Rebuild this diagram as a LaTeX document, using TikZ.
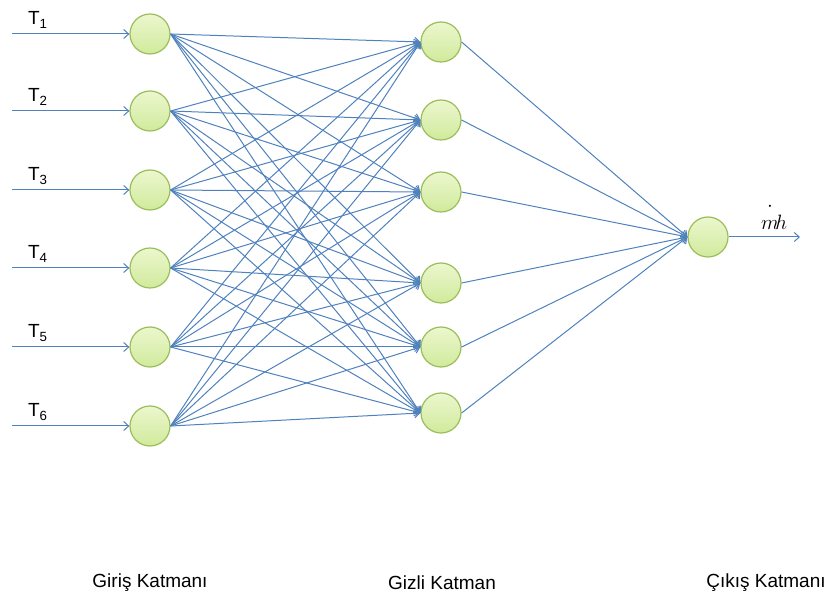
\documentclass[tikz,border=0pt]{standalone}
\usepackage{amsmath}
\usepackage{fontspec}
\setmainfont{Liberation Sans}
\usetikzlibrary{positioning,arrows.meta}
\definecolor{neuronfill}{RGB}{236,247,206}
\definecolor{neuronfillb}{RGB}{208,234,156}
\definecolor{neurondraw}{RGB}{155,190,90}
\definecolor{linkblue}{RGB}{79,129,189}

\begin{document}
\begin{tikzpicture}[x=1pt, y=-1pt, >={Straight Barb[length=5pt,width=9pt]},
		neuron/.style={circle, draw=neurondraw, line width=1.2pt, top color=neuronfill, bottom color=neuronfillb, minimum size=40pt, inner sep=0pt},
		link/.style={->, draw=linkblue, line width=1pt},
		layer/.style={font=\fontsize{19}{21}\selectfont}]
		\useasboundingbox (0,0) rectangle (836,601);
		
		\foreach \m/\y in {1/34,2/111,3/190,4/268,5/347,6/426}
		\node [neuron] (input-\m) at (150,\y) {};
		
		\foreach \m/\y in {1/42,2/120,3/192,4/283,5/347,6/413}
		\node [neuron] (hidden-\m) at (441,\y) {};
		
		\node [neuron] (output-1) at (708,237) {};
		
		\foreach \m/\y in {1/34,2/111,3/190,4/268,5/347,6/426}
		\coordinate (in-\m) at (12,\y);
		\coordinate (out-1) at (800,237);
		
		\foreach \i in {1,...,6}
		\draw [link] (in-\i) -- (input-\i)
		node [pos=0.22, above=2pt, layer] (label-\i) {T\textsubscript{\i}};
		
		\draw [link] (output-1) -- (out-1);
		\node [anchor=base, font=\fontsize{22}{24}\selectfont] (label-o) at (774,230)
		{$\overset{\raisebox{5pt}{$\cdot$}}{m}\!h$};
		
		\foreach \i in {1,...,6}
		\foreach \j in {1,...,6}
		\draw [link] (input-\i.east) -- (hidden-\j.west);
		
		\foreach \i in {1,...,6}
		\draw [link] (hidden-\i.east) -- (output-1.west);
		
		\foreach \l/\x in {Giriş Katmanı/150, Gizli Katman/442, Çıkış Katmanı/766}
		\node [layer] (title-\x) at (\x,583) {\l};
		
	\end{tikzpicture}
\end{document}
